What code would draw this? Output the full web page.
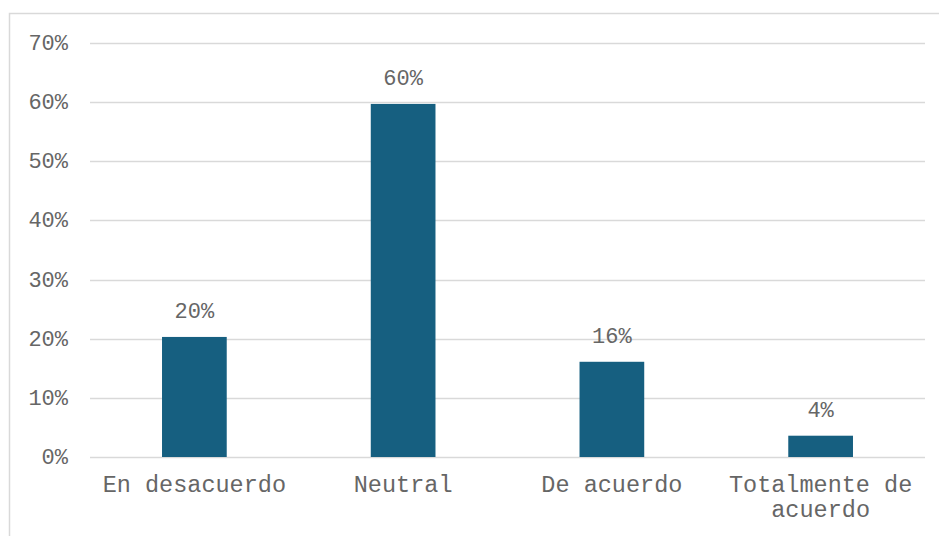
<!DOCTYPE html>
<html>
<head>
<meta charset="utf-8">
<script src="https://cdn.jsdelivr.net/npm/d3@7"></script>
<style>
  html, body { margin: 0; padding: 0; background: #fff; }
  svg text { font-family: 'Liberation Mono', 'Courier New', monospace; fill: #666666; }
</style>
</head>
<body>
<div id="chart"></div>
<script>
const categories = ['En desacuerdo', 'Neutral', 'De acuerdo', 'Totalmente de acuerdo']
const values = [20.3, 59.7, 16.1, 3.6]
const valueLabels = ['20%', '60%', '16%', '4%']
const yTicks = [0, 10, 20, 30, 40, 50, 60, 70]

const width = 939
const height = 536
const margin = { top: 43, right: 14, bottom: 79, left: 90 }
const barColor = '#165f80'
const gridColor = '#d9d9d9'

const svg = d3
  .select('#chart')
  .append('svg')
  .attr('width', width)
  .attr('height', height)

// chart frame
svg
  .append('rect')
  .attr('x', 9.5)
  .attr('y', 13.5)
  .attr('width', width)
  .attr('height', height)
  .attr('fill', 'none')
  .attr('stroke', gridColor)
  .attr('stroke-width', 1.5)

const x = d3
  .scaleBand()
  .domain(categories)
  .range([margin.left, width - margin.right])
  .paddingInner(0.69)
  .paddingOuter(0.345)

const y = d3
  .scaleLinear()
  .domain([0, 70])
  .range([height - margin.bottom, margin.top])

// gridlines
svg
  .append('g')
  .selectAll('line')
  .data(yTicks)
  .join('line')
  .attr('x1', margin.left)
  .attr('x2', width - margin.right)
  .attr('y1', (d) => Math.round(y(d)) + 0.5)
  .attr('y2', (d) => Math.round(y(d)) + 0.5)
  .attr('stroke', gridColor)
  .attr('stroke-width', 1.5)

// y tick labels
svg
  .append('g')
  .selectAll('text')
  .data(yTicks)
  .join('text')
  .attr('x', 68)
  .attr('y', (d) => y(d))
  .attr('dy', '0.32em')
  .attr('text-anchor', 'end')
  .attr('font-size', 22)
  .text((d) => d + '%')

// bars
svg
  .append('g')
  .selectAll('rect')
  .data(values)
  .join('rect')
  .attr('x', (d, i) => x(categories[i]))
  .attr('y', (d) => y(d))
  .attr('width', x.bandwidth())
  .attr('height', (d) => y(0) - y(d))
  .attr('fill', barColor)

// value labels
svg
  .append('g')
  .selectAll('text')
  .data(values)
  .join('text')
  .attr('x', (d, i) => x(categories[i]) + x.bandwidth() / 2)
  .attr('y', (d) => y(d) - 19)
  .attr('text-anchor', 'middle')
  .attr('font-size', 22)
  .text((d, i) => valueLabels[i])

// category labels, wrapped to the band
const catLines = {
  'Totalmente de acuerdo': ['Totalmente de', 'acuerdo'],
}
const catGroup = svg.append('g')
categories.forEach((c) => {
  const lines = catLines[c] || [c]
  const t = catGroup
    .append('text')
    .attr('x', x(c) + x.bandwidth() / 2)
    .attr('y', 492)
    .attr('text-anchor', 'middle')
    .attr('font-size', 23.5)
  lines.forEach((l, j) => {
    t.append('tspan')
      .attr('x', x(c) + x.bandwidth() / 2)
      .attr('dy', j === 0 ? 0 : 25)
      .text(l)
  })
})
</script>
</body>
</html>
